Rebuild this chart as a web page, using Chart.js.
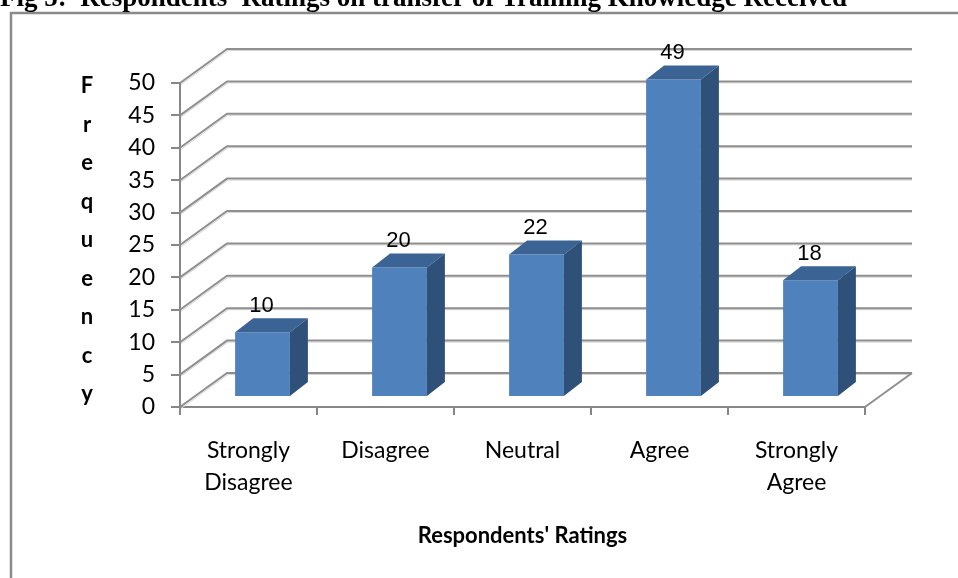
<!DOCTYPE html>
<html>
<head>
<meta charset="utf-8">
<script src="https://cdn.jsdelivr.net/npm/chart.js@4.4.1/dist/chart.umd.min.js"></script>
<style>
  html, body { margin: 0; padding: 0; background: #fff; }
  #wrap { width: 958px; height: 578px; overflow: hidden; }
</style>
</head>
<body>
<div id="wrap"><canvas id="chartRatings" width="958" height="578"></canvas></div>
<script>
// datos del gráfico
const figTitle = "Fig 5:  Respondents' Ratings on transfer of Training Knowledge Received";
const categories = [["Strongly", "Disagree"], "Disagree", "Neutral", "Agree", ["Strongly", "Agree"]];
const frequencies = [10, 20, 22, 49, 18];
const yTickValues = [0, 5, 10, 15, 20, 25, 30, 35, 40, 45, 50];
const yTitle = "Frequency";
const xTitle = "Respondents' Ratings";

// profundidad 3D (pared, desplazamiento y fondo de barra)
const DX = 47, DY = -34;
const SX = 14, SY = -10;
const BX = 18, BY = -14;

const grisEje = "#878787";

const fondoYMarco = {
  id: "fondoYMarco",
  beforeDraw(chart) {
    const ctx = chart.ctx;
    ctx.save();
    ctx.fillStyle = "#fff";
    ctx.fillRect(0, 0, chart.width, chart.height);
    ctx.strokeStyle = "#8a8a8a";
    ctx.lineWidth = 2.5;
    ctx.strokeRect(11, 13, 960, 600);
    ctx.fillStyle = "#000";
    ctx.font = "bold 27px 'Liberation Serif', 'Times New Roman', serif";
    ctx.textBaseline = "alphabetic";
    ctx.textAlign = "left";
    ctx.fillText(figTitle, 0, 6);

    // título vertical letra por letra
    const y = chart.scales.y;
    ctx.font = "bold 22px Lato, sans-serif";
    ctx.textAlign = "center";
    ctx.textBaseline = "middle";
    const letras = yTitle.split("");
    const y0 = y.getPixelForValue(50) + 3;
    const paso = 38.5;
    letras.forEach((l, i) => ctx.fillText(l, 87, y0 + i * paso));
    ctx.restore();
  }
};

const efecto3D = {
  id: "efecto3D",
  beforeDatasetsDraw(chart) {
    const ctx = chart.ctx;
    const { left, right, bottom } = chart.chartArea;
    const y = chart.scales.y;
    ctx.save();
    ctx.lineCap = "butt";
    y.ticks.forEach((t) => {
      const py = y.getPixelForValue(t.value);
      // sombra clara
      ctx.strokeStyle = "#d6d6d6";
      ctx.lineWidth = 1;
      ctx.beginPath();
      ctx.moveTo(left + 1, py + 1.5);
      ctx.lineTo(left + DX + 1, py + DY + 1.5);
      ctx.lineTo(right + DX, py + DY + 1.5);
      ctx.stroke();
      ctx.strokeStyle = "#8f8f8f";
      ctx.lineWidth = 2;
      ctx.beginPath();
      ctx.moveTo(left, py);
      ctx.lineTo(left + DX, py + DY);
      ctx.lineTo(right + DX, py + DY);
      ctx.stroke();
    });
    // borde derecho del piso
    ctx.beginPath();
    ctx.moveTo(right, bottom);
    ctx.lineTo(right + DX, bottom + DY);
    ctx.stroke();
    ctx.restore();

    ctx.save();
    ctx.translate(SX, SY);
  },
  afterDatasetsDraw(chart) {
    const ctx = chart.ctx;
    const meta = chart.getDatasetMeta(0);
    meta.data.forEach((bar, i) => {
      const { x, y, base, width } = bar.getProps(["x", "y", "base", "width"], true);
      const l = x - width / 2, r = x + width / 2;
      // cara superior
      ctx.fillStyle = "#3b6394";
      ctx.beginPath();
      ctx.moveTo(l, y);
      ctx.lineTo(r, y);
      ctx.lineTo(r + BX, y + BY);
      ctx.lineTo(l + BX, y + BY);
      ctx.closePath();
      ctx.fill();
      // cara lateral
      ctx.fillStyle = "#2f5079";
      ctx.beginPath();
      ctx.moveTo(r, y);
      ctx.lineTo(r + BX, y + BY);
      ctx.lineTo(r + BX, base + BY);
      ctx.lineTo(r, base);
      ctx.closePath();
      ctx.fill();
      // etiqueta del valor
      ctx.fillStyle = "#000";
      ctx.font = "22px 'Liberation Sans', Arial, sans-serif";
      ctx.textAlign = "center";
      ctx.textBaseline = "alphabetic";
      ctx.fillText(String(frequencies[i]), x - 1, y + BY - 6);
    });
    ctx.restore();
  }
};

const canvas = document.getElementById("chartRatings");
const context = canvas.getContext("2d");

const chartRatings = new Chart(context, {
  type: "bar",
  data: {
    labels: categories,
    datasets: [
      {
        label: "Frequency",
        data: frequencies,
        backgroundColor: "#4f81bd",
        borderWidth: 0,
        barPercentage: 0.4,
        categoryPercentage: 1,
        clip: false,
      },
    ],
  },
  options: {
    responsive: false,
    devicePixelRatio: 1,
    animation: false,
    layout: {
      padding: { left: 0, right: 93, top: 83, bottom: 0 },
    },
    plugins: {
      legend: { display: false },
      tooltip: { enabled: false },
    },
    scales: {
      x: {
        offset: true,
        grid: {
          offset: true,
          drawOnChartArea: false,
          drawTicks: true,
          tickLength: 8,
          color: grisEje,
          lineWidth: 2,
        },
        border: { display: true, color: grisEje, width: 2 },
        ticks: {
          color: "#000",
          padding: 19,
          maxRotation: 0,
          autoSkip: false,
          font: { family: "Lato", size: 23, lineHeight: 1.4 },
        },
        title: {
          display: true,
          text: xTitle,
          color: "#000",
          font: { family: "Lato", size: 22, weight: "bold", lineHeight: 1.2 },
          padding: { top: 0, bottom: 29 },
        },
        afterFit: (scale) => { scale.height = 171; },
      },
      y: {
        min: 0,
        max: 50,
        grid: {
          drawOnChartArea: false,
          drawTicks: true,
          tickLength: 9,
          color: grisEje,
          lineWidth: 2,
        },
        border: { display: true, color: grisEje, width: 2 },
        ticks: {
          color: "#000",
          padding: 16,
          font: { family: "Lato", size: 23 },
        },
        afterBuildTicks: (scale) => {
          scale.ticks = yTickValues.map((v) => ({ value: v }));
        },
        afterFit: (scale) => { scale.width = 180; },
      },
    },
  },
  plugins: [fondoYMarco, efecto3D],
});
</script>
</body>
</html>
